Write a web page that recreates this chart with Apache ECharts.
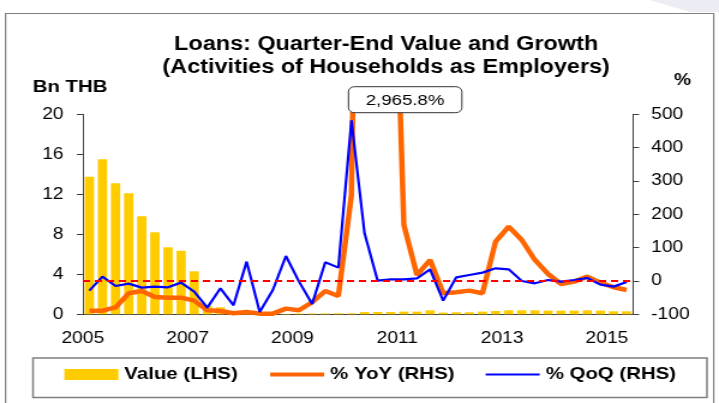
<!DOCTYPE html>
<html>
<head>
<meta charset="utf-8">
<script src="https://cdn.jsdelivr.net/npm/echarts@6/dist/echarts.min.js"></script>
<style>
  html, body { margin: 0; padding: 0; background: #fff; overflow: hidden; }
  /* the reference picture is stretched sideways by about 1.2, so draw narrow and stretch */
  #chart { width: 599px; height: 403px; transform: scaleX(1.2003); transform-origin: 0 0; }
</style>
</head>
<body>
<div id="chart"></div>
<script>
// quarters 2005Q1 .. 2015Q2
var years = [2005, 2006, 2007, 2008, 2009, 2010, 2011, 2012, 2013, 2014, 2015];
var quarters = [];
years.forEach(function (y) {
  for (var q = 1; q <= 4; q++) {
    if (y === 2015 && q > 2) break;
    quarters.push(y + 'Q' + q);
  }
});
var yearLabels = ['2005', '2007', '2009', '2011', '2013', '2015'];

// Value (Bn THB, LHS)
var loanValue = [13.76, 15.5, 13.1, 12.1, 9.8, 8.2, 6.7, 6.35,
  4.3, 0.85, 0.7, 0.03, 0.03, 0.03, 0.03, 0.03,
  0.08, 0.08, 0.08, 0.1, 0.1, 0.23, 0.23, 0.23,
  0.27, 0.27, 0.4, 0.17, 0.2, 0.2, 0.27, 0.33,
  0.4, 0.4, 0.4, 0.37, 0.37, 0.37, 0.4, 0.37,
  0.3, 0.3];
// % YoY (RHS)
var yoy = [-89, -89, -79, -37, -30, -48, -50, -50,
  -59, -88, -90, -97, -93, -98, -98, -83,
  -88, -64, -30, -45, 258, 2965.8, 1890, 1395,
  168, 18, 63, -37, -34, -29, -37, 118,
  163, 123, 63, 21, -9, -2, 13, -5,
  -19, -27];
// % QoQ (RHS)
var qoq = [-29, 13, -15, -8, -20, -17, -19, -5,
  -32, -80, -22, -73, 58, -93, -27, 75,
  -2, -69, 56, 40, 482, 143, 1, 5,
  5, 8, 35, -59, 11, 18, 25, 38,
  35, 0, -7, 3, -2, 3, 9, -11,
  -17, -3];

var FONT = "'Liberation Sans', Arial, sans-serif";
var myChart = echarts.init(document.getElementById('chart'));

var option = {
  animation: false,
  grid: { left: 69, right: 71.5, top: 114.3, bottom: 88.7, containLabel: false, outerBoundsMode: 'none' },
  legend: {
    left: 53.6,
    top: 366,
    padding: 0,
    itemWidth: 45,
    itemHeight: 11,
    itemGap: 25,
    textStyle: { fontFamily: FONT, fontSize: 17, fontWeight: 'bold', color: '#000' },
    data: [
      { name: 'Value (LHS)', icon: 'rect' },
      { name: '% YoY (RHS)', itemStyle: { opacity: 0 }, lineStyle: { width: 4 } },
      { name: '% QoQ (RHS)', itemStyle: { opacity: 0 }, lineStyle: { width: 2 } }
    ]
  },
  xAxis: [{
    type: 'category',
    data: quarters,
    boundaryGap: true,
    axisLine: { lineStyle: { color: '#404040', width: 1 } },
    axisTick: { interval: 3, length: 5, lineStyle: { color: '#404040' } },
    axisLabel: { show: false }
  }, {
    type: 'value',
    position: 'bottom',
    min: 0,
    max: 42,
    interval: 8,
    axisLine: { show: false },
    axisTick: { show: false },
    splitLine: { show: false },
    axisLabel: {
      margin: 16,
      fontFamily: FONT,
      fontSize: 16,
      color: '#000',
      formatter: function (v) { return v % 8 === 0 ? yearLabels[v / 8] : ''; }
    }
  }],
  yAxis: [{
    type: 'value',
    position: 'left',
    min: 0,
    max: 20,
    interval: 4,
    axisLine: { show: true, lineStyle: { color: '#404040' } },
    axisTick: { show: true, length: 5, lineStyle: { color: '#404040' } },
    splitLine: { show: false },
    axisLabel: { margin: 16, fontFamily: FONT, fontSize: 16, color: '#000' }
  }, {
    type: 'value',
    position: 'right',
    min: -100,
    max: 500,
    interval: 100,
    axisLine: { show: true, lineStyle: { color: '#404040' } },
    axisTick: { show: true, length: 5, lineStyle: { color: '#404040' } },
    splitLine: { show: false },
    axisLabel: { margin: 15, fontFamily: FONT, fontSize: 16, color: '#000' }
  }],
  series: [{
    name: 'Value (LHS)',
    type: 'bar',
    yAxisIndex: 0,
    data: loanValue,
    barCategoryGap: '29%',
    itemStyle: { color: '#FFCC00' }
  }, {
    name: '% YoY (RHS)',
    type: 'line',
    yAxisIndex: 1,
    data: yoy,
    symbol: 'none',
    clip: true,
    color: '#FF6600',
    lineStyle: { color: '#FF6600', width: 4.5 },
    markLine: {
      silent: true,
      symbol: ['none', 'none'],
      label: { show: false },
      lineStyle: { color: '#FF0000', type: [6, 4], width: 2 },
      data: [{ yAxis: 0 }]
    }
  }, {
    name: '% QoQ (RHS)',
    type: 'line',
    yAxisIndex: 1,
    data: qoq,
    symbol: 'none',
    clip: true,
    color: '#0000FF',
    lineStyle: { color: '#0000FF', width: 2.2 }
  }],
  graphic: [
    // slide background corner
    { type: 'polygon', silent: true, z: -10,
      shape: { points: [[541, 0], [599, 0], [599, 12], [575, 12]] },
      style: { fill: '#ECEDF4' } },
    // outer frame
    { type: 'rect', silent: true, z: -5,
      shape: { x: 4.6, y: 13.5, width: 590, height: 400 },
      style: { fill: 'none', stroke: '#7F7F7F', lineWidth: 1.2 } },
    // legend box
    { type: 'rect', silent: true,
      shape: { x: 27.5, y: 358, width: 561.5, height: 39.5 },
      style: { fill: 'none', stroke: '#7F7F7F', lineWidth: 1.5 } },
    { type: 'text', silent: true, x: 321.7, y: 44.5,
      style: { text: 'Loans: Quarter-End Value and Growth', font: 'bold 19.5px ' + FONT,
        fill: '#000', align: 'center', verticalAlign: 'middle' } },
    { type: 'text', silent: true, x: 321.7, y: 67.5,
      style: { text: '(Activities of Households as Employers)', font: 'bold 19.5px ' + FONT,
        fill: '#000', align: 'center', verticalAlign: 'middle' } },
    { type: 'text', silent: true, x: 58.3, y: 87.5,
      style: { text: 'Bn THB', font: 'bold 17px ' + FONT,
        fill: '#000', align: 'center', verticalAlign: 'middle' } },
    { type: 'text', silent: true, x: 568.6, y: 80.9,
      style: { text: '%', font: 'bold 16px ' + FONT,
        fill: '#000', align: 'center', verticalAlign: 'middle' } },
    // label for the off-scale YoY peak
    { type: 'rect', silent: true, z: 50,
      shape: { x: 290.3, y: 86.7, width: 94.5, height: 26, r: 5 },
      style: { fill: '#fff', stroke: '#333', lineWidth: 1 } },
    { type: 'text', silent: true, z: 51, x: 337.5, y: 100.8,
      style: { text: '2,965.8%', font: '15.5px ' + FONT,
        fill: '#000', align: 'center', verticalAlign: 'middle' } }
  ]
};
myChart.setOption(option);
</script>
</body>
</html>
